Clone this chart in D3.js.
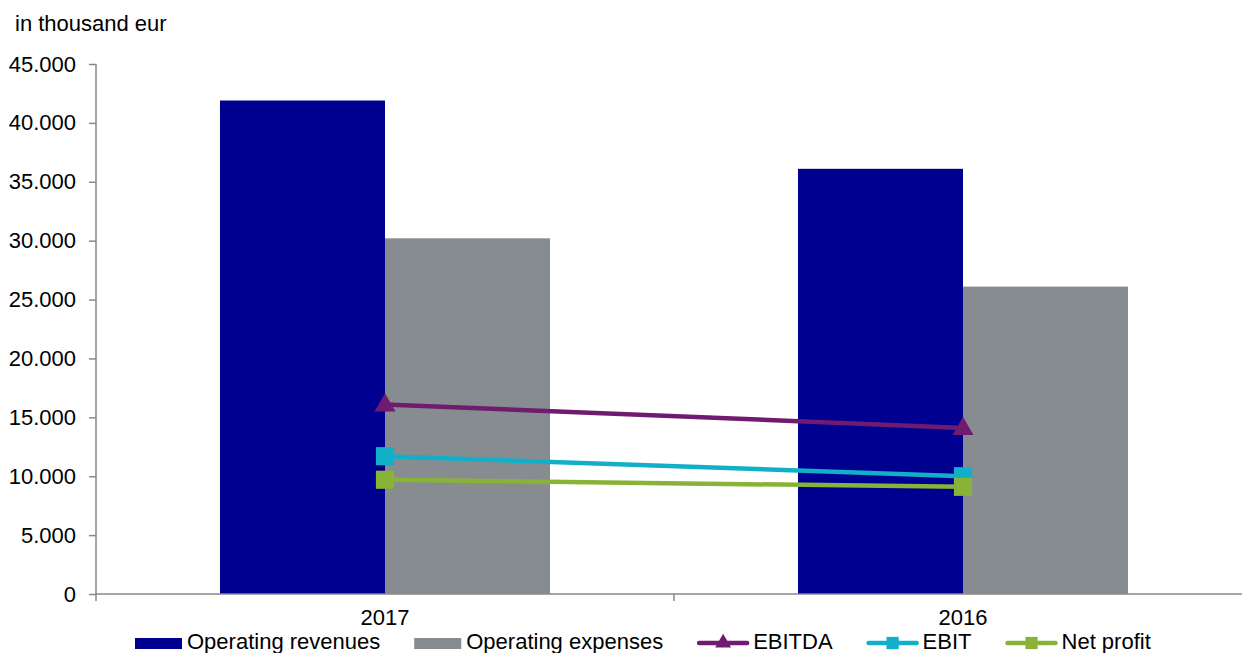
<!DOCTYPE html>
<html>
<head>
<meta charset="utf-8">
<script src="https://cdn.jsdelivr.net/npm/d3@7"></script>
<style>
  html, body { margin: 0; padding: 0; background: #fff; }
  svg { display: block; }
  text { font-family: "Liberation Sans", Arial, sans-serif; fill: #000; }
</style>
</head>
<body>
<svg id="chart" width="1242" height="653"></svg>
<script>
// Financial summary, values in thousand EUR
const years = ["2017", "2016"];
const barSeries = ["Operating revenues", "Operating expenses"];
const operatingRevenues = [41900, 36100];
const operatingExpenses = [30200, 26100];
const lineSeries = ["EBITDA", "EBIT", "Net profit"];
const ebitda = [16100, 14100];
const ebit = [11700, 10000];
const netProfit = [9700, 9100];
const yTicks = [0, 5000, 10000, 15000, 20000, 25000, 30000, 35000, 40000, 45000];

const colors = {
  "Operating revenues": "#000090",
  "Operating expenses": "#878C91",
  "EBITDA": "#701B70",
  "EBIT": "#12AFC8",
  "Net profit": "#89B337"
};
const markers = { "EBITDA": "triangle", "EBIT": "square", "Net profit": "square" };
const fontSize = 22;

const svg = d3.select("#chart");
const plotLeft = 96, plotRight = 1252, plotTop = 64, plotBottom = 594;

const y = d3.scaleLinear().domain([0, 45000]).range([plotBottom, plotTop]);
const x0 = d3.scaleBand().domain(years).range([plotLeft, plotRight])
  .paddingInner(0.429).paddingOuter(0.2145);
const x1 = d3.scaleBand().domain(barSeries).range([0, x0.bandwidth()]);

const fmt = v => d3.format(",")(v).replace(/,/g, ".");

// y axis
const yAxis = svg.append("g")
  .attr("transform", `translate(${plotLeft},0)`)
  .call(d3.axisLeft(y).tickValues(yTicks).tickSize(7).tickPadding(13).tickFormat(fmt));
yAxis.select(".domain").attr("stroke", "#888").attr("stroke-width", 1.5).attr("d", `M0,${plotTop}V${plotBottom}`);
yAxis.selectAll(".tick line").attr("stroke", "#888").attr("stroke-width", 1.5);
yAxis.selectAll(".tick text").attr("font-size", fontSize).attr("font-family", "Liberation Sans, Arial, sans-serif");

// bars
const barData = years.map((yr, i) => ({
  year: yr,
  values: [
    { key: barSeries[0], value: operatingRevenues[i] },
    { key: barSeries[1], value: operatingExpenses[i] }
  ]
}));
svg.append("g").selectAll("g").data(barData).join("g")
  .attr("transform", d => `translate(${x0(d.year)},0)`)
  .selectAll("rect").data(d => d.values).join("rect")
  .attr("x", d => x1(d.key))
  .attr("width", x1.bandwidth())
  .attr("y", d => y(d.value))
  .attr("height", d => y(0) - y(d.value))
  .attr("fill", d => colors[d.key]);

// x axis
const xAxisG = svg.append("g").attr("transform", `translate(0,${plotBottom})`);
xAxisG.append("path").attr("d", `M${plotLeft},0H${plotRight}`).attr("stroke", "#888").attr("stroke-width", 1.5).attr("fill", "none");
const bounds = [plotLeft, x0.step() + plotLeft, plotRight];
xAxisG.selectAll("line.tk").data(bounds).join("line")
  .attr("class", "tk")
  .attr("x1", d => d).attr("x2", d => d).attr("y1", 0).attr("y2", 7)
  .attr("stroke", "#888").attr("stroke-width", 1.5);
xAxisG.selectAll("text").data(years).join("text")
  .attr("x", d => x0(d) + x0.bandwidth() / 2)
  .attr("y", 31)
  .attr("text-anchor", "middle")
  .attr("font-size", fontSize)
  .text(d => d);

// lines with markers
const lineData = [
  { key: "EBITDA", values: ebitda },
  { key: "EBIT", values: ebit },
  { key: "Net profit", values: netProfit }
];
const cx = yr => x0(yr) + x0.bandwidth() / 2;
const line = d3.line().x((d, i) => cx(years[i])).y(d => y(d));
const symTri = d3.symbol().type(d3.symbolTriangle).size(190);
const symSq = d3.symbol().type(d3.symbolSquare).size(330);

lineData.forEach(s => {
  svg.append("path")
    .datum(s.values)
    .attr("d", line)
    .attr("fill", "none")
    .attr("stroke", colors[s.key])
    .attr("stroke-width", 4.5);
});
lineData.forEach(s => {
  svg.append("g").selectAll("path").data(s.values).join("path")
    .attr("transform", (d, i) => `translate(${cx(years[i])},${y(d) + (markers[s.key] === "triangle" ? 1 : 0)})`)
    .attr("d", markers[s.key] === "triangle" ? symTri() : symSq())
    .attr("fill", colors[s.key]);
});

// unit label
svg.append("text").attr("x", 15).attr("y", 31).attr("font-size", fontSize).text("in thousand eur");

// legend
const legend = svg.append("g");
const legendY = 643;
let lx = 135;
const legendItems = [
  ...barSeries.map(k => ({ key: k, type: "bar" })),
  ...lineSeries.map(k => ({ key: k, type: "line" }))
];
const legSq = d3.symbol().type(d3.symbolSquare).size(150);
const legTri = d3.symbol().type(d3.symbolTriangle).size(110);
legendItems.forEach(item => {
  const g = legend.append("g").attr("transform", `translate(${lx},0)`);
  if (item.type === "bar") {
    g.append("rect").attr("x", 0).attr("y", legendY - 5).attr("width", 47).attr("height", 11)
      .attr("fill", colors[item.key]);
  } else {
    g.append("line").attr("x1", 2).attr("x2", 50).attr("y1", legendY).attr("y2", legendY)
      .attr("stroke", colors[item.key]).attr("stroke-width", 4.5).attr("stroke-linecap", "round");
    g.append("path").attr("transform", `translate(26,${legendY})`)
      .attr("d", markers[item.key] === "triangle" ? legTri() : legSq())
      .attr("fill", colors[item.key]);
  }
  const sw = item.type === "bar" ? 52 : 56;
  const t = g.append("text").attr("x", sw).attr("y", 649).attr("font-size", fontSize).text(item.key);
  lx += sw + t.node().getComputedTextLength() + 34;
});
</script>
</body>
</html>
